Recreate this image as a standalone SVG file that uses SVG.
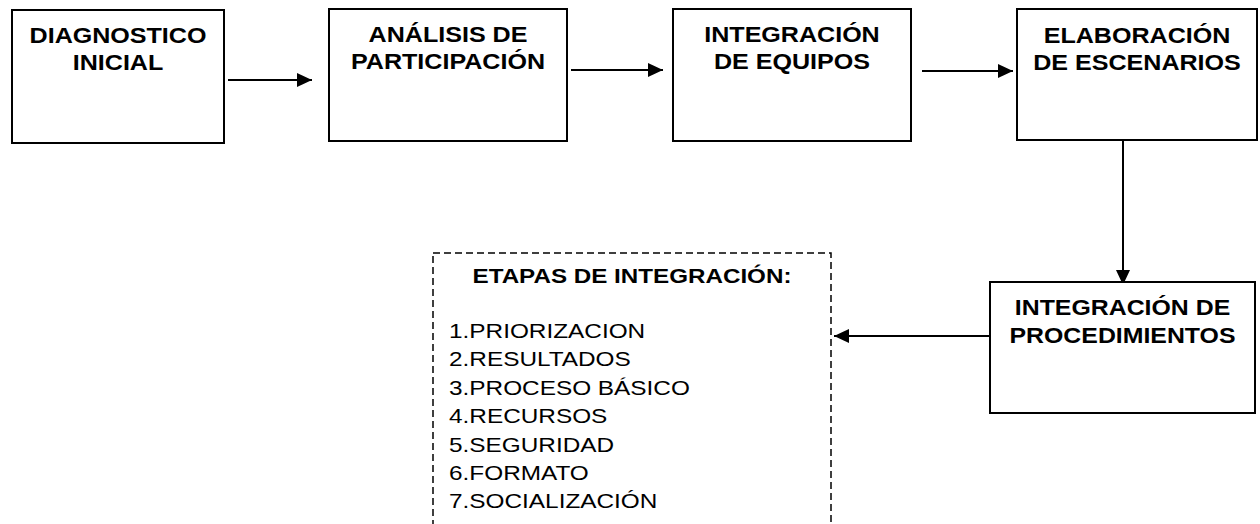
<svg xmlns="http://www.w3.org/2000/svg" width="1260" height="524" viewBox="0 0 1260 524">
<style>
.box{fill:#fff;stroke:#000;stroke-width:2}
.hd{font-family:"Liberation Sans",Arial,sans-serif;font-weight:bold;font-size:22px;fill:#000;text-anchor:middle}
.ls{font-family:"Liberation Sans",Arial,sans-serif;font-size:21px;fill:#000}
.con{stroke:#000;stroke-width:2;fill:none;marker-end:url(#ah)}
.dash{fill:none;stroke:#000;stroke-width:1.5;stroke-dasharray:7 4}
</style>
<defs>
<marker id="ah" markerUnits="userSpaceOnUse" markerWidth="16" markerHeight="14" refX="15" refY="7" orient="auto">
<path d="M0,0 L15,7 L0,14 z" fill="#000"/>
</marker>
</defs>
<rect width="1260" height="524" fill="#fff"/>
<g id="connectors">
<line class="con" x1="228" y1="80" x2="312" y2="80"/>
<line class="con" x1="571" y1="70" x2="663" y2="70"/>
<line class="con" x1="922" y1="71" x2="1013" y2="71"/>
<line class="con" x1="1123" y1="141" x2="1123" y2="285"/>
<line class="con" x1="990" y1="336" x2="834" y2="336"/>
</g>
<g id="n1">
<rect class="box" x="12" y="10" width="212" height="133"/>
<text class="hd" transform="translate(118,0) scale(1.14,1)"><tspan x="0" y="43">DIAGNOSTICO</tspan><tspan x="0" y="70">INICIAL</tspan></text>
</g>
<g id="n2">
<rect class="box" x="329" y="9" width="238" height="132"/>
<text class="hd" transform="translate(448,0) scale(1.14,1)"><tspan x="0" y="42">ANÁLISIS DE</tspan><tspan x="0" y="69">PARTICIPACIÓN</tspan></text>
</g>
<g id="n3">
<rect class="box" x="673" y="9" width="238" height="132"/>
<text class="hd" transform="translate(792,0) scale(1.14,1)"><tspan x="0" y="42">INTEGRACIÓN</tspan><tspan x="0" y="69">DE EQUIPOS</tspan></text>
</g>
<g id="n4">
<rect class="box" x="1017" y="9" width="240" height="131"/>
<text class="hd" transform="translate(1137,0) scale(1.14,1)"><tspan x="0" y="43">ELABORACIÓN</tspan><tspan x="0" y="70">DE ESCENARIOS</tspan></text>
</g>
<g id="n5">
<rect class="box" x="990" y="282" width="265" height="131"/>
<text class="hd" transform="translate(1122.5,0) scale(1.13,1)"><tspan x="0" y="315">INTEGRACIÓN DE</tspan><tspan x="0" y="343">PROCEDIMIENTOS</tspan></text>
</g>
<g id="n6">
<rect class="dash" x="433" y="253" width="398" height="300"/>
<text class="hd" style="font-size:20px" transform="translate(632,0) scale(1.21,1)"><tspan x="0" y="283">ETAPAS DE INTEGRACIÓN:</tspan></text>
<text class="ls" transform="translate(449,0) scale(1.16,1)">
<tspan x="0" y="338">1.PRIORIZACION</tspan>
<tspan x="0" y="366.4">2.RESULTADOS</tspan>
<tspan x="0" y="394.8">3.PROCESO BÁSICO</tspan>
<tspan x="0" y="423.2">4.RECURSOS</tspan>
<tspan x="0" y="451.6">5.SEGURIDAD</tspan>
<tspan x="0" y="480">6.FORMATO</tspan>
<tspan x="0" y="508.4">7.SOCIALIZACIÓN</tspan>
</text>
</g>
</svg>
